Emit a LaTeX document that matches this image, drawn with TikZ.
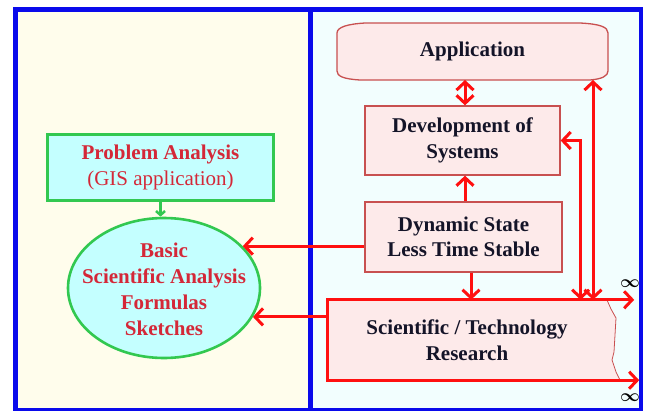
\documentclass[tikz,border=0pt]{standalone}
\usepackage{amsmath}
\usepackage{fontspec}
\setmainfont{Liberation Serif}
\usetikzlibrary{arrows.meta}
\usetikzlibrary{shapes.geometric}

\definecolor{frameblue}{RGB}{10,10,235}
\definecolor{leftbg}{RGB}{255,253,236}
\definecolor{rightbg}{RGB}{242,254,254}
\definecolor{boxpink}{RGB}{253,234,234}
\definecolor{boxedge}{RGB}{200,80,80}
\definecolor{arrowred}{RGB}{255,16,16}
\definecolor{textred}{RGB}{212,40,56}
\definecolor{textdark}{RGB}{20,20,40}
\definecolor{edgegreen}{RGB}{50,200,80}
\definecolor{fillcyan}{RGB}{196,255,255}

\tikzset{
  pinkbox/.style={draw=boxedge, line width=1.3pt, fill=boxpink, align=center,
    text=textdark, font=\bfseries\fontsize{21}{25.5}\selectfont},
  greenbox/.style={draw=edgegreen, line width=3pt, fill=fillcyan, align=center,
    text=textred, font=\fontsize{21}{26}\selectfont},
  redtext/.style={text=textred, align=center, font=\bfseries\fontsize{21}{26}\selectfont},
  redarrow/.style={draw=arrowred, line width=3pt},
  inflabel/.style={text=black, inner sep=0pt, font=\fontsize{16}{16}\selectfont}
}

\begin{document}
\begin{tikzpicture}[x=1pt, y=-1pt, >={Straight Barb[length=8pt,width=17pt]}]
\useasboundingbox (0,0) rectangle (645,410);
\clip (0,0) rectangle (645,410);

% panels
\fill[leftbg] (15.5,9.5) rectangle (310.5,410);
\fill[rightbg] (310.5,9.5) rectangle (641,410);
\draw[frameblue, line width=4.5pt] (15.5,9.5) rectangle (641,410.5);
\draw[frameblue, line width=4.5pt] (310.5,9.5) -- (310.5,410.5);

% left side
\node[greenbox, minimum width=226pt, minimum height=66pt] (prob) at (160.5,167.5)
  {\textbf{Problem Analysis}\\(GIS application)};
\node[greenbox, ellipse, line width=2.6pt, minimum width=192pt, minimum height=140pt,
  inner sep=0pt] (ell) at (164,288) {};
\node[redtext] (elltext) at (164,289) {Basic\\Scientific Analysis\\Formulas\\Sketches};
\draw[draw=edgegreen, line width=2.5pt, -{Straight Barb[length=4pt,width=9pt]}]
  (prob.south) -- (prob.south |- ell.north);

% right side
\draw[draw=boxedge, line width=1.3pt, fill=boxpink] (365,23) -- (580,23)
  .. controls (600,24) and (608,27) .. (608,33) -- (608,71)
  .. controls (608,76) and (602,79) .. (590,80) -- (360,80)
  .. controls (343,79) and (337,76) .. (337,71) -- (337,33)
  .. controls (337,27) and (348,24) .. (365,23) -- cycle;
\node[text=textdark, font=\bfseries\fontsize{21}{25.5}\selectfont] (app) at (472.5,51.5) {Application};
\coordinate (appbot) at (472.5,80);

\node[pinkbox, minimum width=195pt, minimum height=69pt] (dev) at (462.5,140.5)
  {Development of\\Systems};
\node[pinkbox, minimum width=197pt, minimum height=70pt] (dyn) at (463.5,237)
  {Dynamic State\\Less Time Stable};
\node[fill=boxpink, minimum width=278pt, minimum height=80pt, align=center,
  text=textdark, font=\bfseries\fontsize{21}{26}\selectfont] (sci) at (467,340)
  {Scientific / Technology\\Research};

% torn edge
\fill[boxpink] (sci.north east) -- (607,300) -- (611,309) -- (616,318) -- (615,335)
  -- (614,352) -- (612,360) -- (616,372) -- (620,380) -- (sci.south east) -- cycle;
\draw[draw=boxedge, line width=0.8pt] (607,300) -- (611,309) -- (616,318) -- (615,335)
  -- (614,352) -- (612,360) -- (616,372) -- (620,380);

\coordinate (endtop) at ([xshift=28pt]sci.north east);
\coordinate (endbot) at ([xshift=33pt]sci.south east);
\draw[redarrow, <->] (endtop) -- (sci.north west) -- (sci.south west) -- (endbot);
\node[inflabel] (inftop) at (630,284) {$\boldsymbol{\infty}$};
\node[inflabel] (infbot) at (630,398) {$\boldsymbol{\infty}$};

% arrows
\draw[redarrow, <->] ([xshift=2.5pt]dev.north) -- ([xshift=2.5pt]dev.north |- appbot);
\draw[redarrow, ->] ([xshift=1.5pt]dyn.north) -- ([xshift=1.5pt]dyn.north |- dev.south);
\draw[redarrow, ->] ([xshift=7.5pt]dyn.south) -- ([xshift=7.5pt]dyn.south |- sci.north);
\draw[redarrow, ->] (dyn.west |- ell.28) -- (ell.28);
\draw[redarrow, ->] (sci.west |- ell.-18) -- (ell.-18);
\draw[redarrow, <->] ([xshift=120.5pt]appbot) -- ([xshift=120.5pt]appbot |- sci.north);
\draw[redarrow, <->] (dev.east) -| ([xshift=20pt]dev.east |- sci.north);

\end{tikzpicture}
\end{document}
